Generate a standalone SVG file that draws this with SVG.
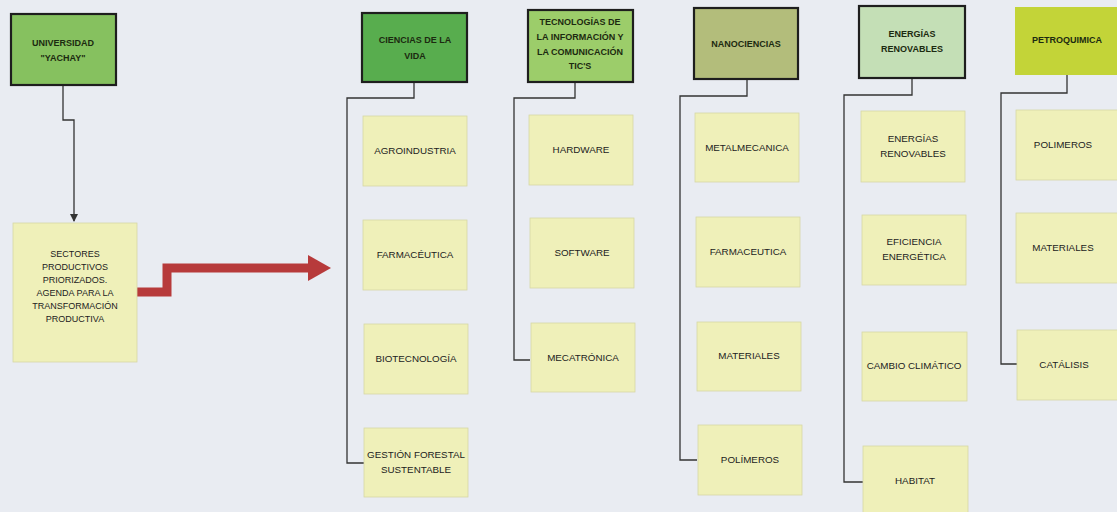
<svg xmlns="http://www.w3.org/2000/svg" width="1117" height="512" viewBox="0 0 1117 512">
<defs>
<style>
.bg{fill:#e9ecf2}
.hdr{stroke:#1e1e1e;stroke-width:2.2}
.child{fill:#eff0b9;stroke:#d6d7a6;stroke-width:0.8}
.t{font-family:"Liberation Sans",Arial,sans-serif;font-size:9.8px;fill:#222;text-anchor:middle}
.ts{font-family:"Liberation Sans",Arial,sans-serif;font-size:9px;fill:#222;text-anchor:middle}
.th{font-family:"Liberation Sans",Arial,sans-serif;font-size:9px;font-weight:bold;fill:#1c2a10;text-anchor:middle}
.ln{fill:none;stroke:#333;stroke-width:1.3}
</style>
<marker id="ah" markerWidth="8" markerHeight="8" refX="7" refY="4" orient="auto" markerUnits="userSpaceOnUse">
<path d="M0,0 L8,4 L0,8 z" fill="#333"/>
</marker>
</defs>
<rect class="bg" x="0" y="0" width="1117" height="512"/>

<g id="connectors">
<path class="ln" d="M63,85 V120 H74 V221" marker-end="url(#ah)"/>
<path d="M135,292 H167 V268 H310" fill="none" stroke="#b73a3b" stroke-width="9" stroke-linecap="round" stroke-linejoin="miter"/>
<polygon points="308,255 331,268 308,281" fill="#b73a3b"/>
<path class="ln" d="M414,82 V98 H347 V463 H364"/>
<path class="ln" d="M575,82 V98 H514 V360 H530"/>
<path class="ln" d="M747,79 V96 H680 V460 H697"/>
<path class="ln" d="M912,78 V95 H844 V482 H863"/>
<path class="ln" d="M1067,75 V93 H1001 V364 H1017"/>
</g>

<g id="universidad">
<rect class="hdr" x="11" y="14" width="105" height="71" fill="#86c15f"/>
<text class="th" x="63" y="46">UNIVERSIDAD</text>
<text class="th" x="63" y="61">"YACHAY"</text>
</g>

<g id="sectores">
<rect class="child" x="13" y="223" width="124" height="139"/>
<text class="ts" x="75" y="257">SECTORES</text>
<text class="ts" x="75" y="270">PRODUCTIVOS</text>
<text class="ts" x="75" y="283">PRIORIZADOS.</text>
<text class="ts" x="75" y="296">AGENDA PARA LA</text>
<text class="ts" x="75" y="309">TRANSFORMACIÓN</text>
<text class="ts" x="75" y="322">PRODUCTIVA</text>
</g>

<g id="ciencias">
<rect class="hdr" x="362" y="13" width="105" height="69" fill="#58ad4e"/>
<text class="th" x="415" y="43">CIENCIAS DE LA</text>
<text class="th" x="415" y="59">VIDA</text>
</g>
<g id="agroindustria"><rect class="child" x="363" y="116" width="104" height="70"/><text class="t" x="415" y="154">AGROINDUSTRIA</text></g>
<g id="farmaceutica1"><rect class="child" x="363" y="220" width="104" height="70"/><text class="t" x="415" y="258">FARMACÉUTICA</text></g>
<g id="biotecnologia"><rect class="child" x="364" y="324" width="104" height="70"/><text class="t" x="416" y="362">BIOTECNOLOGÍA</text></g>
<g id="gestion"><rect class="child" x="364" y="428" width="104" height="69"/><text class="t" x="416" y="458">GESTIÓN FORESTAL</text><text class="t" x="416" y="473">SUSTENTABLE</text></g>

<g id="tic">
<rect class="hdr" x="528" y="10" width="105" height="72" fill="#9ccd6a"/>
<text class="th" x="580" y="25">TECNOLOGÍAS DE</text>
<text class="th" x="580" y="40">LA INFORMACIÓN Y</text>
<text class="th" x="580" y="55">LA COMUNICACIÓN</text>
<text class="th" x="580" y="69">TIC'S</text>
</g>
<g id="hardware"><rect class="child" x="529" y="115" width="104" height="70"/><text class="t" x="581" y="153">HARDWARE</text></g>
<g id="software"><rect class="child" x="530" y="218" width="104" height="70"/><text class="t" x="582" y="256">SOFTWARE</text></g>
<g id="mecatronica"><rect class="child" x="531" y="323" width="104" height="69"/><text class="t" x="583" y="361">MECATRÓNICA</text></g>

<g id="nanociencias">
<rect class="hdr" x="694" y="8" width="104" height="71" fill="#b3bd7b"/>
<text class="th" x="746" y="47">NANOCIENCIAS</text>
</g>
<g id="metalmecanica"><rect class="child" x="695" y="113" width="104" height="69"/><text class="t" x="747" y="151">METALMECANICA</text></g>
<g id="farmaceutica2"><rect class="child" x="696" y="217" width="104" height="70"/><text class="t" x="748" y="255">FARMACEUTICA</text></g>
<g id="materiales1"><rect class="child" x="697" y="322" width="104" height="69"/><text class="t" x="749" y="359">MATERIALES</text></g>
<g id="polimeros1"><rect class="child" x="698" y="425" width="104" height="70"/><text class="t" x="750" y="463">POLÍMEROS</text></g>

<g id="energias">
<rect class="hdr" x="859" y="6" width="106" height="72" fill="#c4dfb6"/>
<text class="th" x="912" y="37">ENERGÍAS</text>
<text class="th" x="912" y="52">RENOVABLES</text>
</g>
<g id="energias-renovables"><rect class="child" x="861" y="111" width="104" height="71"/><text class="t" x="913" y="142">ENERGÍAS</text><text class="t" x="913" y="157">RENOVABLES</text></g>
<g id="eficiencia"><rect class="child" x="862" y="215" width="104" height="70"/><text class="t" x="914" y="245">EFICIENCIA</text><text class="t" x="914" y="260">ENERGÉTICA</text></g>
<g id="cambio"><rect class="child" x="862" y="332" width="105" height="69"/><text class="t" x="914" y="369">CAMBIO CLIMÁTICO</text></g>
<g id="habitat"><rect class="child" x="863" y="446" width="105" height="72"/><text class="t" x="915" y="484">HABITAT</text></g>

<g id="petroquimica">
<rect x="1015" y="7" width="104" height="68" fill="#c3d438"/>
<text class="th" x="1067" y="43">PETROQUIMICA</text>
</g>
<g id="polimeros2"><rect class="child" x="1016" y="110" width="104" height="70"/><text class="t" x="1063" y="148">POLIMEROS</text></g>
<g id="materiales2"><rect class="child" x="1016" y="213" width="104" height="70"/><text class="t" x="1063" y="251">MATERIALES</text></g>
<g id="catalisis"><rect class="child" x="1017" y="330" width="104" height="70"/><text class="t" x="1064" y="368">CATÁLISIS</text></g>
</svg>
